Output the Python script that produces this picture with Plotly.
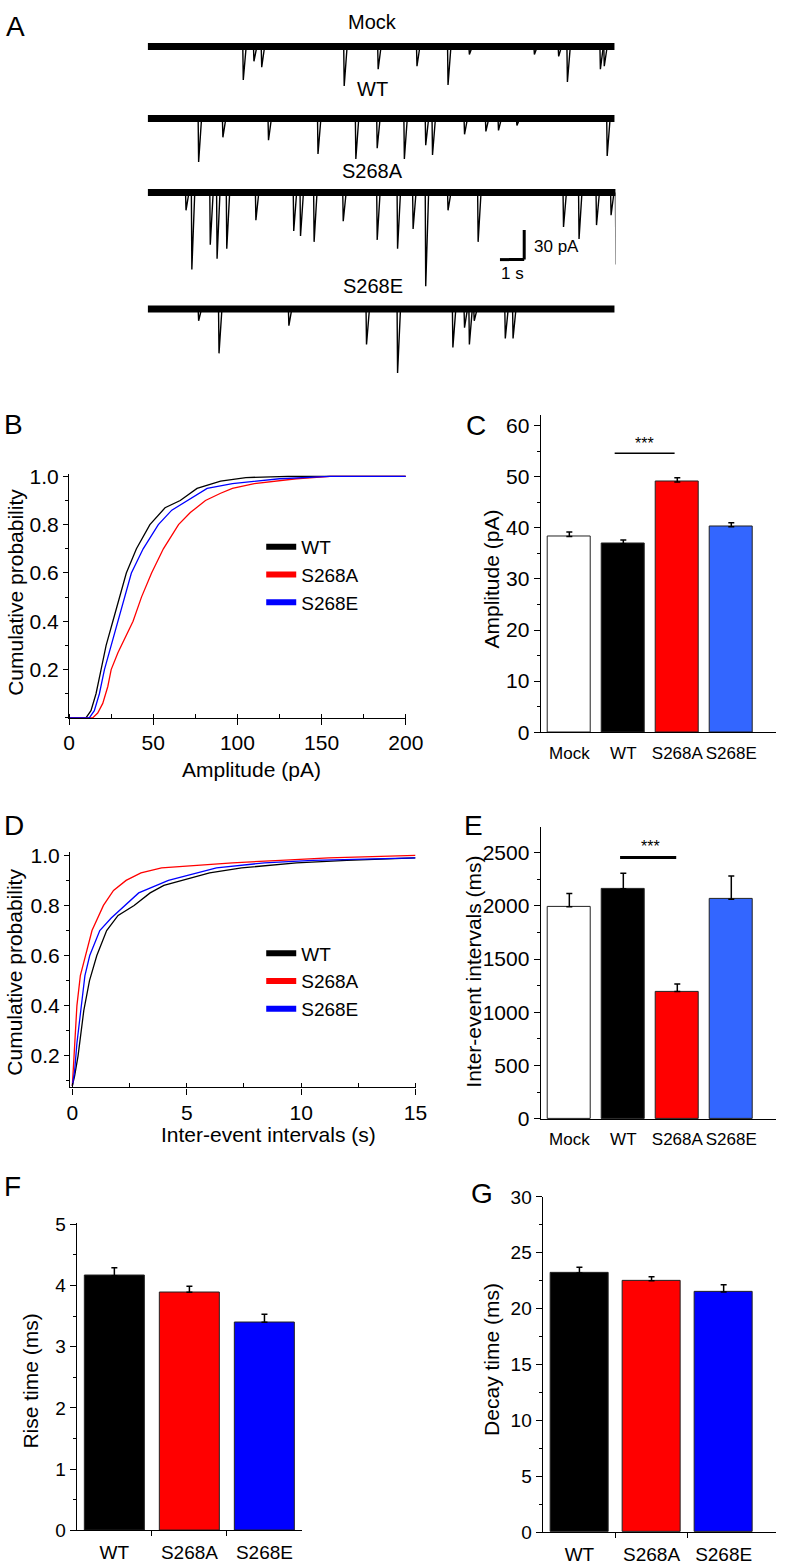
import plotly.graph_objects as go

W, H = 812, 1566
FONT = "Liberation Sans, Arial, sans-serif"

# ---------------- data ----------------
# panel A: miniature events (time in s, amplitude in pA)
mock_t = [3.92, 4.36, 4.68, 8.08, 9.48, 11.08, 12.36, 13.24, 15.92, 16.92, 17.28, 18.64, 18.8]
mock_amp = [34, 15, 21, 40, 23, 20, 39, 8, 8, 10, 36, 23, 20]
wt_t = [2.08, 3.08, 4.96, 7.0, 8.56, 9.44, 10.56, 11.44, 11.72, 13.04, 13.92, 14.44, 15.2, 18.92]
wt_amp = [44, 19, 22, 36, 41, 30, 41, 27, 37, 16, 13, 12, 7, 38]
s268a_t = [1.56, 1.8, 2.56, 2.84, 3.24, 4.44, 6.0, 6.28, 6.84, 8.04, 9.44, 10.28, 10.92,
           11.44, 12.36, 13.6, 17.12, 17.76, 18.48, 19.08, 19.28]
s268a_amp = [18, 78, 53, 67, 57, 28, 39, 44, 50, 29, 48, 57, 37, 95, 18, 50, 35, 47, 33, 23, 73]
s268e_t = [2.08, 2.92, 5.8, 9.0, 10.28, 12.56, 13.04, 13.24, 13.44, 14.72, 15.04]
s268e_amp = [12, 45, 17, 36, 65, 39, 19, 36, 12, 30, 30]
rec_names = ["Mock", "WT", "S268A", "S268E"]
rec_dur = [19.24, 19.24, 19.3, 19.24]

# panel B: cumulative amplitude distributions (pA, probability)
amp_wt_x = [0, 10, 13, 16, 19, 22, 26, 30, 34, 40, 48, 57, 66, 76, 90, 105, 130, 200]
amp_wt_y = [0, 0, 0.03, 0.1, 0.2, 0.3, 0.4, 0.5, 0.6, 0.7, 0.8, 0.87, 0.9, 0.95, 0.98, 0.995, 1.0, 1.0]
amp_a_x = [0, 14, 17, 20, 23, 25, 29, 33, 38, 43, 49, 56, 65, 72, 81, 90, 97, 110, 122, 135, 155, 200]
amp_a_y = [0, 0, 0.02, 0.06, 0.13, 0.2, 0.27, 0.33, 0.4, 0.5, 0.6, 0.7, 0.8, 0.85, 0.9, 0.93, 0.95,
           0.97, 0.98, 0.99, 1.0, 1.0]
amp_e_x = [0, 12, 15, 18, 21, 25, 29, 33, 37, 44, 53, 61, 70, 82, 97, 110, 125, 155, 200]
amp_e_y = [0, 0, 0.03, 0.1, 0.2, 0.3, 0.4, 0.5, 0.6, 0.7, 0.8, 0.86, 0.9, 0.95, 0.97, 0.98, 0.99, 1.0, 1.0]

# panel D: cumulative inter-event interval distributions (s, probability)
iei_wt_x = [0, 0.1, 0.25, 0.5, 0.75, 1.07, 1.5, 2.0, 2.7, 3.4, 4.0, 4.8, 6.0, 7.4, 9.8, 12, 15]
iei_wt_y = [0.08, 0.12, 0.2, 0.38, 0.5, 0.6, 0.7, 0.76, 0.8, 0.85, 0.88, 0.9, 0.93, 0.95, 0.97, 0.98, 0.99]
iei_a_x = [0, 0.08, 0.2, 0.35, 0.58, 0.86, 1.36, 1.8, 2.35, 3.0, 3.9, 5.5, 7.0, 9.1, 11.2, 15]
iei_a_y = [0.08, 0.2, 0.4, 0.52, 0.6, 0.7, 0.8, 0.86, 0.9, 0.93, 0.95, 0.96, 0.97, 0.98, 0.99, 1.0]
iei_e_x = [0, 0.1, 0.2, 0.4, 0.55, 0.76, 1.2, 1.7, 2.3, 2.9, 4.2, 5.0, 6.3, 8.4, 10.5, 15]
iei_e_y = [0.08, 0.14, 0.25, 0.42, 0.52, 0.6, 0.7, 0.75, 0.8, 0.85, 0.9, 0.92, 0.95, 0.97, 0.98, 0.99]

# bar panels
groups4 = ["Mock", "WT", "S268A", "S268E"]
amp_mean = [38.3, 36.9, 49.0, 40.2]
amp_sem = [0.9, 0.7, 0.8, 0.8]
iei_mean = [1990, 2160, 1195, 2060]
iei_sem = [125, 145, 70, 220]
groups3 = ["WT", "S268A", "S268E"]
rise_mean = [4.16, 3.89, 3.40]
rise_sem = [0.13, 0.10, 0.13]
decay_mean = [23.2, 22.5, 21.5]
decay_sem = [0.5, 0.35, 0.65]


def px(x):
    return x / W


def py(y):
    return 1 - y / H


fig = go.Figure()

# ---- A: traces (thick baseline band + individual events)
bases = [-37, -110, -185, -303]
events = [(mock_t, mock_amp), (wt_t, wt_amp), (s268a_t, s268a_amp), (s268e_t, s268e_amp)]
for (tt, aa), base, dur in zip(events, bases, rec_dur):
    fig.add_trace(go.Scatter(x=[0, dur], y=[base, base], mode="lines",
                             line=dict(color="black", width=7), showlegend=False,
                             xaxis="x", yaxis="y"))
    xs, ys = [], []
    for t, a in zip(tt, aa):
        xs += [t, t + 0.02, t + 0.14, None]
        ys += [base, base - a, base, None]
    fig.add_trace(go.Scatter(x=xs, y=ys, mode="lines", line=dict(color="black", width=1.4),
                             showlegend=False, xaxis="x", yaxis="y"))

# ---- B and D: cumulative curves
cols = {"WT": "black", "S268A": "#ff0000", "S268E": "#0000ff"}
curvesB = [("WT", amp_wt_x, amp_wt_y), ("S268A", amp_a_x, amp_a_y), ("S268E", amp_e_x, amp_e_y)]
curvesD = [("WT", iei_wt_x, iei_wt_y), ("S268A", iei_a_x, iei_a_y), ("S268E", iei_e_x, iei_e_y)]
for curves, xa, ya, lg in [(curvesB, "x2", "y2", "legend"), (curvesD, "x4", "y4", "legend2")]:
    for name, xx, yy in curves:
        fig.add_trace(go.Scatter(x=xx, y=yy, mode="lines", line=dict(color=cols[name], width=1.3),
                                 showlegend=False, xaxis=xa, yaxis=ya))
    for name, _, _ in curves:
        fig.add_trace(go.Scatter(x=[None], y=[None], mode="lines", name=name,
                                 line=dict(color=cols[name], width=6), legend=lg,
                                 legendgroup=lg + name, xaxis=xa, yaxis=ya))

# ---- bar panels (numeric positions so only the in-between ticks get drawn)
col4 = ["white", "black", "#ff0000", "#3366ff"]
col3 = ["black", "#ff0000", "#0000ff"]


def bars(labels, m, e, colors, xa, ya, width):
    fig.add_trace(go.Bar(x=list(range(len(labels))), y=m, width=width,
                         marker=dict(color=colors, line=dict(color="#222", width=1)),
                         error_y=dict(type="data", array=e, arrayminus=[0] * len(e), symmetric=False,
                                      color="black", thickness=1.5, width=3),
                         showlegend=False, xaxis=xa, yaxis=ya))


bars(groups4, amp_mean, amp_sem, col4, "x3", "y3", 0.81)
bars(groups4, iei_mean, iei_sem, col4, "x5", "y5", 0.81)
bars(groups3, rise_mean, rise_sem, col3, "x6", "y6", 0.8)
bars(groups3, decay_mean, decay_sem, col3, "x7", "y7", 0.81)

# ---- axes
tickfont = dict(family=FONT, size=21, color="black")
small_tf = dict(family=FONT, size=19, color="black")
base_ax = dict(showline=True, linecolor="black", linewidth=1.3, showgrid=False, zeroline=False,
               ticks="outside", ticklen=6, tickwidth=1.2, tickcolor="black", tickfont=tickfont)


def dom_x(a, b):
    return [px(a), px(b)]


def dom_y(bottom, top):
    return [py(bottom), py(top)]


def cat_axis(labels, a, b, rng, anchor, font, between_ticks):
    ax = dict(base_ax, domain=dom_x(a, b), range=rng, anchor=anchor, tickangle=0,
              tickvals=list(range(len(labels))), ticktext=labels, ticks="", tickfont=font,
              ticklabelstandoff=5)
    if between_ticks:
        ax["minor"] = dict(tickvals=[i + 0.5 for i in range(len(labels) - 1)], ticks="outside",
                           ticklen=5, tickwidth=1.2, tickcolor="black")
    return ax


lay = dict(
    xaxis=dict(domain=dom_x(146, 628), range=[0, 19.28], visible=False, anchor="y"),
    yaxis=dict(domain=dom_y(375, 0), range=[-375, 0], visible=False, anchor="x"),
    xaxis2=dict(base_ax, domain=dom_x(65, 412), range=[0, 200], dtick=50, anchor="y2",
                minor=dict(dtick=25, ticks="inside", ticklen=4, tickcolor="black")),
    yaxis2=dict(base_ax, domain=dom_y(717.5, 470), range=[0, 1.011], tickvals=[0.2, 0.4, 0.6, 0.8, 1.0],
                tickformat=".1f", anchor="x2", ticklen=5,
                minor=dict(dtick=0.1, ticks="outside", ticklen=3, tickcolor="black")),
    xaxis3=cat_axis(groups4, 551, 793, [-0.53, 3.82], "y3", dict(tickfont, size=17), False),
    yaxis3=dict(base_ax, domain=dom_y(732, 411), range=[0, 62], dtick=10, anchor="x3",
                minor=dict(dtick=5, ticks="outside", ticklen=3, tickcolor="black")),
    xaxis4=dict(base_ax, domain=dom_x(66, 422), range=[-0.1, 15], dtick=5, anchor="y4",
                minor=dict(dtick=2.5, ticks="inside", ticklen=4, tickcolor="black")),
    yaxis4=dict(base_ax, domain=dom_y(1092, 853), range=[0.074, 1.015], tickvals=[0.2, 0.4, 0.6, 0.8, 1.0],
                tickformat=".1f", anchor="x4", ticklen=5,
                minor=dict(dtick=0.1, ticks="outside", ticklen=3, tickcolor="black")),
    xaxis5=cat_axis(groups4, 551, 793, [-0.53, 3.82], "y5", dict(tickfont, size=17), False),
    yaxis5=dict(base_ax, domain=dom_y(1124, 828), range=[0, 2740], dtick=500, anchor="x5",
                minor=dict(dtick=250, ticks="outside", ticklen=3, tickcolor="black")),
    xaxis6=cat_axis(groups3, 73, 305, [-0.5, 2.5], "y6", small_tf, True),
    yaxis6=dict(base_ax, domain=dom_y(1541, 1229), range=[0, 5.03], dtick=1, anchor="x6",
                tickfont=small_tf,
                minor=dict(dtick=0.5, ticks="outside", ticklen=3, tickcolor="black")),
    xaxis7=cat_axis(groups3, 553, 793, [-0.51, 2.72], "y7", small_tf, True),
    yaxis7=dict(base_ax, domain=dom_y(1543, 1203), range=[0, 30], dtick=5, anchor="x7",
                tickfont=small_tf,
                minor=dict(dtick=2.5, ticks="outside", ticklen=3, tickcolor="black")),
)

legfont = dict(family=FONT, size=19, color="black")
lay["legend"] = dict(x=px(263), y=py(525), xanchor="left", yanchor="top", font=legfont,
                     bgcolor="rgba(0,0,0,0)", tracegroupgap=0, itemwidth=30)
lay["legend2"] = dict(x=px(263), y=py(937), xanchor="left", yanchor="top", font=legfont,
                      bgcolor="rgba(0,0,0,0)", tracegroupgap=0, itemwidth=30)

# ---- text
ann = []


def text(x, y, s, size=20, angle=0, xanchor="center"):
    ann.append(dict(x=px(x), y=py(y), xref="paper", yref="paper", text=s, showarrow=False,
                    textangle=angle, xanchor=xanchor, yanchor="middle",
                    font=dict(family=FONT, size=size, color="black")))


for letter, x, y in [("A", 10, 17), ("B", 8, 420), ("C", 484, 421), ("D", 8, 827),
                     ("E", 482, 827), ("F", 7, 1192), ("G", 490, 1200)]:
    text(x, y, letter, size=28)

for name, y in zip(rec_names, [12, 80, 163, 280]):
    text(378, y, name)
text(542, 240, "30 pA", size=17, xanchor="left")
text(522, 267, "1 s", size=17)

text(9, 590, "Cumulative probability", size=21, angle=-90)
text(253, 770, "Amplitude (pA)", size=21)
text(500, 577, "Amplitude (pA)", size=21, angle=-90)
text(9, 975, "Cumulative probability", size=21, angle=-90)
text(270, 1140, "Inter-event intervals (s)", size=21)
text(482, 975, "Inter-event intervals (ms)", size=21, angle=-90)
text(25, 1390, "Rise time (ms)", size=21, angle=-90)
text(500, 1368, "Decay time (ms)", size=21, angle=-90)

# significance markers
ann.append(dict(x=1.4, y=56.6, xref="x3", yref="y3", text="***", showarrow=False,
                font=dict(family=FONT, size=16, color="black")))
ann.append(dict(x=1.5, y=2560, xref="x5", yref="y5", text="***", showarrow=False,
                font=dict(family=FONT, size=16, color="black")))

shapes = [
    dict(type="line", xref="x3", yref="y3", x0=0.84, x1=1.95, y0=54.6, y1=54.6,
         line=dict(color="black", width=1.5)),
    dict(type="line", xref="x5", yref="y5", x0=0.94, x1=1.98, y0=2453, y1=2453,
         line=dict(color="black", width=3)),
    # scale bar: 1 s by 30 pA
    dict(type="line", xref="x", yref="y", x0=14.52, x1=15.52, y0=-253, y1=-253,
         line=dict(color="black", width=3)),
    dict(type="line", xref="x", yref="y", x0=15.52, x1=15.52, y0=-253, y1=-223,
         line=dict(color="black", width=3)),
]

fig.update_layout(width=W, height=H, margin=dict(l=0, r=0, t=0, b=0), autosize=False,
                  paper_bgcolor="white", plot_bgcolor="white", annotations=ann, shapes=shapes,
                  font=dict(family=FONT, color="black"), bargap=0, **lay)

# drop the browser's default body margin so the figure sits at the page origin
fig.write_html("out.html", config={"displayModeBar": False},
               post_script="document.body.style.margin='0px';")
